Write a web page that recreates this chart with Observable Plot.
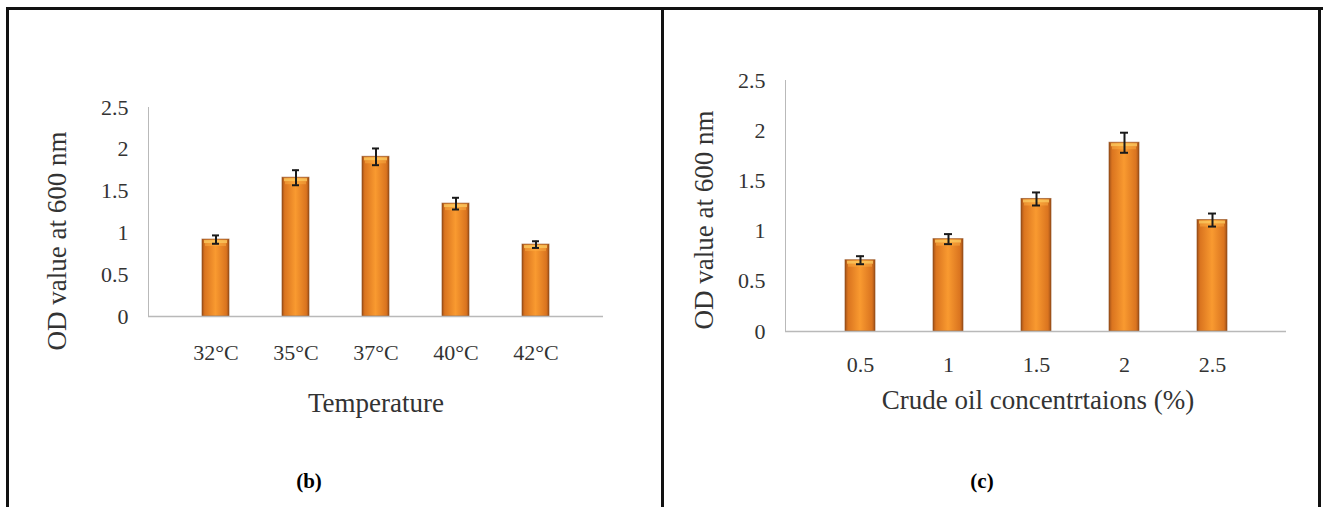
<!DOCTYPE html>
<html>
<head>
<meta charset="utf-8">
<script src="https://cdn.jsdelivr.net/npm/d3@7"></script>
<script src="https://cdn.jsdelivr.net/npm/@observablehq/plot@0.6"></script>
<style>
  body { margin: 0; background: #fff; }
  #wrap { position: relative; width: 1324px; height: 507px; overflow: hidden; background: #fff;
          font-family: "Liberation Serif", "DejaVu Serif", serif; color: #333; }
  .panel { position: absolute; top: 0; }
  .lbl { position: absolute; white-space: nowrap; font-size: 27px; line-height: 27px;
         transform: translate(-50%, -50%); }
  .rot { transform: translate(-50%, -50%) rotate(-90deg); }
  .tag { position: absolute; white-space: nowrap; font-size: 21px; line-height: 21px; font-weight: bold;
         color: #000; transform: translate(-50%, -50%); }
  .line { position: absolute; background: #111; }
</style>
</head>
<body>
<svg width="0" height="0" style="position:absolute">
  <defs>
    <linearGradient id="barGrad" x1="0" x2="1" y1="0" y2="0">
      <stop offset="0%" stop-color="#9E5019"/>
      <stop offset="10%" stop-color="#DA741F"/>
      <stop offset="50%" stop-color="#F99A30"/>
      <stop offset="90%" stop-color="#DA741F"/>
      <stop offset="100%" stop-color="#9E5019"/>
    </linearGradient>
  </defs>
</svg>
<div id="wrap">
  <div class="panel" id="left" style="left:0;width:663px;height:507px"></div>
  <div class="panel" id="right" style="left:663px;width:661px;height:507px"></div>

  <div class="lbl rot" style="left:57px;top:241px">OD value at 600 nm</div>
  <div class="lbl" style="left:376px;top:403px">Temperature</div>
  <div class="lbl rot" style="left:704px;top:220px">OD value at 600 nm</div>
  <div class="lbl" style="left:1038px;top:400px">Crude oil concentrtaions (%)</div>
  <div class="tag" style="left:309px;top:481px">(b)</div>
  <div class="tag" style="left:982px;top:481px">(c)</div>

  <div class="line" style="left:6px;top:7px;width:1317px;height:3px"></div>
  <div class="line" style="left:6px;top:7px;width:3px;height:500px"></div>
  <div class="line" style="left:661px;top:7px;width:3px;height:500px"></div>
  <div class="line" style="left:1318px;top:7px;width:3px;height:500px"></div>
</div>
<script>
// Panel (b): temperature
const temps = ["32°C", "35°C", "37°C", "40°C", "42°C"];
const tempOD = [0.92, 1.66, 1.91, 1.35, 0.86];
const tempErr = [0.05, 0.09, 0.10, 0.07, 0.04];

// Panel (c): crude oil concentration
const concs = ["0.5", "1", "1.5", "2", "2.5"];
const concOD = [0.71, 0.92, 1.32, 1.88, 1.11];
const concErr = [0.04, 0.05, 0.065, 0.10, 0.065];

const yTicks = [0, 0.5, 1, 1.5, 2, 2.5];

function panel(cats, vals, errs, opt) {
  const data = cats.map((c, i) => ({cat: c, v: vals[i], e: errs[i]}));
  return Plot.plot({
    width: opt.width,
    height: 507,
    marginLeft: opt.ml,
    marginRight: opt.mr,
    marginTop: opt.mt,
    marginBottom: opt.mb,
    style: {background: "none", fontFamily: "'Liberation Serif', 'DejaVu Serif', serif", color: "#333"},
    x: {domain: cats, padding: 0.66, label: null},
    y: {domain: [0, 2.5], label: null},
    marks: [
      Plot.axisX({tickSize: 0, tickPadding: opt.xpad, fontSize: 22, label: null}),
      Plot.axisY({ticks: yTicks, tickSize: 0, tickPadding: 20, fontSize: 22, label: null, tickFormat: d3.format("")}),
      Plot.frame({anchor: "left", stroke: "#b9b9b9"}),
      Plot.barY(data, {x: "cat", y: "v", fill: "url(#barGrad)", stroke: "#8A4614", strokeWidth: 1, strokeOpacity: 0.6}),
      Plot.tickY(data, {x: "cat", y: "v", stroke: "#FFD266", strokeWidth: 3, dy: 2, inset: 2, strokeOpacity: 0.75}),
      Plot.tickY(data, {x: "cat", y: "v", stroke: "#FFB347", strokeWidth: 3, dy: 5, inset: 3, strokeOpacity: 0.45}),
      Plot.ruleY([0], {stroke: "#b9b9b9", strokeWidth: 1.5}),
      Plot.ruleX(data, {x: "cat", y1: d => d.v - d.e, y2: d => d.v + d.e, stroke: "#1a1a1a", strokeWidth: 2}),
      Plot.tickY(data, {x: "cat", y: d => d.v + d.e, stroke: "#1a1a1a", strokeWidth: 2, inset: opt.cap}),
      Plot.tickY(data, {x: "cat", y: d => d.v - d.e, stroke: "#1a1a1a", strokeWidth: 2, inset: opt.cap})
    ]
  });
}

document.getElementById("left").append(
  panel(temps, tempOD, tempErr, {width: 663, ml: 148, mr: 60, mt: 107, mb: 191, xpad: 28, cap: 10})
);
document.getElementById("right").append(
  panel(concs, concOD, concErr, {width: 661, ml: 122, mr: 38, mt: 80, mb: 176, xpad: 25, cap: 11})
);
</script>
</body>
</html>
